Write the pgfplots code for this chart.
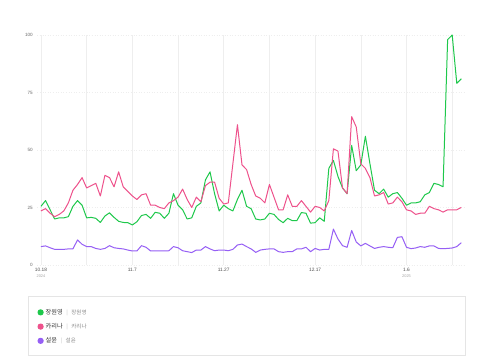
\documentclass[border=0pt]{standalone}
\usepackage{pgfplots}
\pgfplotsset{compat=1.18}
\usepackage{fontspec}
\setmainfont{Liberation Sans}
\newfontfamily\kr{Noto Sans CJK KR}
\definecolor{cgreen}{RGB}{30,200,75}
\definecolor{cpink}{RGB}{238,82,140}
\definecolor{cpurple}{RGB}{150,95,245}
\definecolor{gridc}{RGB}{238,238,238}
\definecolor{tickc}{RGB}{80,80,80}
\definecolor{yearc}{RGB}{165,165,165}
\definecolor{legdark}{RGB}{55,55,55}
\definecolor{leglight}{RGB}{140,140,140}
\begin{document}
\begin{tikzpicture}[x=1pt,y=1pt]
\useasboundingbox (0,0) rectangle (480,362);
\fill[white] (0,0) rectangle (480,362);
\draw[draw=black!10, line width=0.6pt] (28,7) rectangle (465,66);
\begin{axis}[
  at={(37.3pt,97pt)}, anchor=south west,
  scale only axis, width=427.7pt, height=230pt,
  xmin=-0.8, xmax=92.8, ymin=0, ymax=100,
  clip=false,
  axis line style={draw=none},
  tick style={draw=none},
  xtick={0,20,40,60,80},
  minor xtick={10,30,50,70,90},
  xticklabels={{10.18\\[-0.5pt]{\color{yearc}\fontsize{3.9}{4}\selectfont 2024}},{11.7},{11.27},{12.17},{1.6\\[-0.5pt]{\color{yearc}\fontsize{3.9}{4}\selectfont 2025}}},
  xticklabel style={font=\fontsize{4.8}{6.5}\selectfont, text=tickc, align=center, anchor=north, inner sep=0pt, yshift=-3.2pt},
  ytick={0,25,50,75,100},
  yticklabel style={font=\fontsize{4.6}{5}\selectfont, text=tickc!85, anchor=east, inner sep=0pt, xshift=-4.3pt},
  /pgf/number format/assume math mode=true,
  xmajorgrids, xminorgrids, ymajorgrids,
  major x grid style={draw=gridc, line width=0.6pt},
  minor x grid style={draw=gridc, line width=0.6pt},
  major y grid style={draw=gridc, line width=0.6pt, dotted},
  extra y ticks={0,100}, extra y tick labels={},
  extra y tick style={grid=major, major grid style={draw=gridc, line width=0.6pt, solid}},
  legend style={at={(axis description cs:0.0,-0.182)}, anchor=north west, draw=none, fill=none, inner sep=0pt, row sep=3.6pt, font=\fontsize{6.2}{7}\selectfont, cells={anchor=west}},
  legend image code/.code={\fill[#1] (1.5pt,0pt) circle (2.6pt);},
  every axis plot/.append style={line width=1.0pt, line join=round, mark=none},
]
\addplot[color=cgreen] coordinates {
(0,25.5)(1,28)(2,24)(3,20)(4,20.5)(5,20.5)(6,21)(7,25.5)(8,28)(9,26)
(10,20.5)(11,20.7)(12,20.3)(13,18.5)(14,21.3)(15,22.7)(16,20.7)(17,19)(18,18.5)(19,18.4)
(20,17.4)(21,18.8)(22,21.5)(23,22)(24,20.3)(25,22.9)(26,22.5)(27,20.3)(28,22.5)(29,31)
(30,26)(31,24)(32,20)(33,20.5)(34,25.5)(35,27)(36,37)(37,40.5)(38,31)(39,23.5)
(40,26)(41,24.5)(42,23.5)(43,28.5)(44,32.5)(45,25.5)(46,24.5)(47,20)(48,19.6)(49,20)
(50,22.5)(51,22)(52,19.8)(53,18.4)(54,20.3)(55,19.3)(56,19.3)(57,22.8)(58,22.5)(59,18.2)
(60,18.4)(61,20.5)(62,19)(63,42)(64,45.5)(65,38.5)(66,33.5)(67,31)(68,52)(69,41)
(70,43.5)(71,56)(72,44)(73,32.5)(74,31)(75,33)(76,29.5)(77,31)(78,31.5)(79,29)
(80,26)(81,27)(82,27)(83,27.5)(84,30.5)(85,31.5)(86,35.5)(87,35)(88,34)(89,98)
(90,100)(91,79)(92,81)};
\addlegendentry{{\kr\color{legdark}장원영}\hspace{3.5pt}{\color{black!18}|}\hspace{3.5pt}{\kr\fontsize{5.5}{6}\selectfont\color{leglight}장원영}}
\addplot[color=cpink] coordinates {
(0,23.5)(1,24.5)(2,22.5)(3,21)(4,22)(5,23.5)(6,27)(7,32.5)(8,35)(9,38)
(10,33.5)(11,34.5)(12,35.5)(13,30)(14,39)(15,38)(16,34)(17,40.5)(18,34)(19,32)
(20,30)(21,28.5)(22,30.5)(23,31)(24,26)(25,26)(26,25)(27,24.5)(28,27)(29,28)
(30,29.5)(31,33)(32,28.5)(33,25)(34,29.5)(35,27.5)(36,34.5)(37,36)(38,36)(39,29)
(40,26.5)(41,27)(42,44)(43,61)(44,43.5)(45,41.5)(46,35)(47,30)(48,29)(49,27)
(50,35)(51,29.5)(52,24)(53,24)(54,30.5)(55,25.5)(56,25.5)(57,28)(58,25.5)(59,23)
(60,25.5)(61,25)(62,23.5)(63,28)(64,50.5)(65,49.5)(66,33.5)(67,31)(68,64.5)(69,60)
(70,44)(71,42)(72,38)(73,30)(74,30.5)(75,31.5)(76,26.5)(77,27)(78,29.5)(79,27.5)
(80,24)(81,23.5)(82,22)(83,22.5)(84,22.5)(85,25.5)(86,24.5)(87,24)(88,23)(89,24)
(90,24)(91,24)(92,25)};
\addlegendentry{{\kr\color{legdark}카리나}\hspace{3.5pt}{\color{black!18}|}\hspace{3.5pt}{\kr\fontsize{5.5}{6}\selectfont\color{leglight}카리나}}
\addplot[color=cpurple] coordinates {
(0,8)(1,8.3)(2,7.5)(3,6.8)(4,6.8)(5,6.8)(6,7)(7,7)(8,10.9)(9,9)
(10,8)(11,8)(12,7.2)(13,6.8)(14,7.2)(15,8.4)(16,7.5)(17,7.2)(18,7)(19,6.5)
(20,6.1)(21,6.1)(22,8.4)(23,7.7)(24,6.1)(25,6.1)(26,6.1)(27,6.1)(28,6.2)(29,8)
(30,7.5)(31,6.2)(32,5.8)(33,5.4)(34,6.5)(35,6.5)(36,8)(37,7)(38,6.2)(39,6.5)
(40,6.5)(41,6.2)(42,6.8)(43,8.7)(44,9.1)(45,8)(46,7)(47,5.5)(48,6.5)(49,6.8)
(50,7)(51,7)(52,5.8)(53,5.5)(54,5.8)(55,5.8)(56,7)(57,7)(58,7.7)(59,5.8)
(60,7.2)(61,6.5)(62,6.8)(63,6.8)(64,15.6)(65,11.3)(66,8.4)(67,7.7)(68,15)(69,10)
(70,8.3)(71,9.4)(72,8.3)(73,7.2)(74,7.7)(75,8)(76,7.7)(77,7.5)(78,12)(79,12.3)
(80,7.7)(81,7.1)(82,7.4)(83,8)(84,7.7)(85,8.3)(86,8.3)(87,7.2)(88,7.1)(89,7.2)
(90,7.4)(91,8)(92,9.7)};
\addlegendentry{{\kr\color{legdark}설윤}\hspace{3.5pt}{\color{black!18}|}\hspace{3.5pt}{\kr\fontsize{5.5}{6}\selectfont\color{leglight}설윤}}
\end{axis}
\end{tikzpicture}
\end{document}
